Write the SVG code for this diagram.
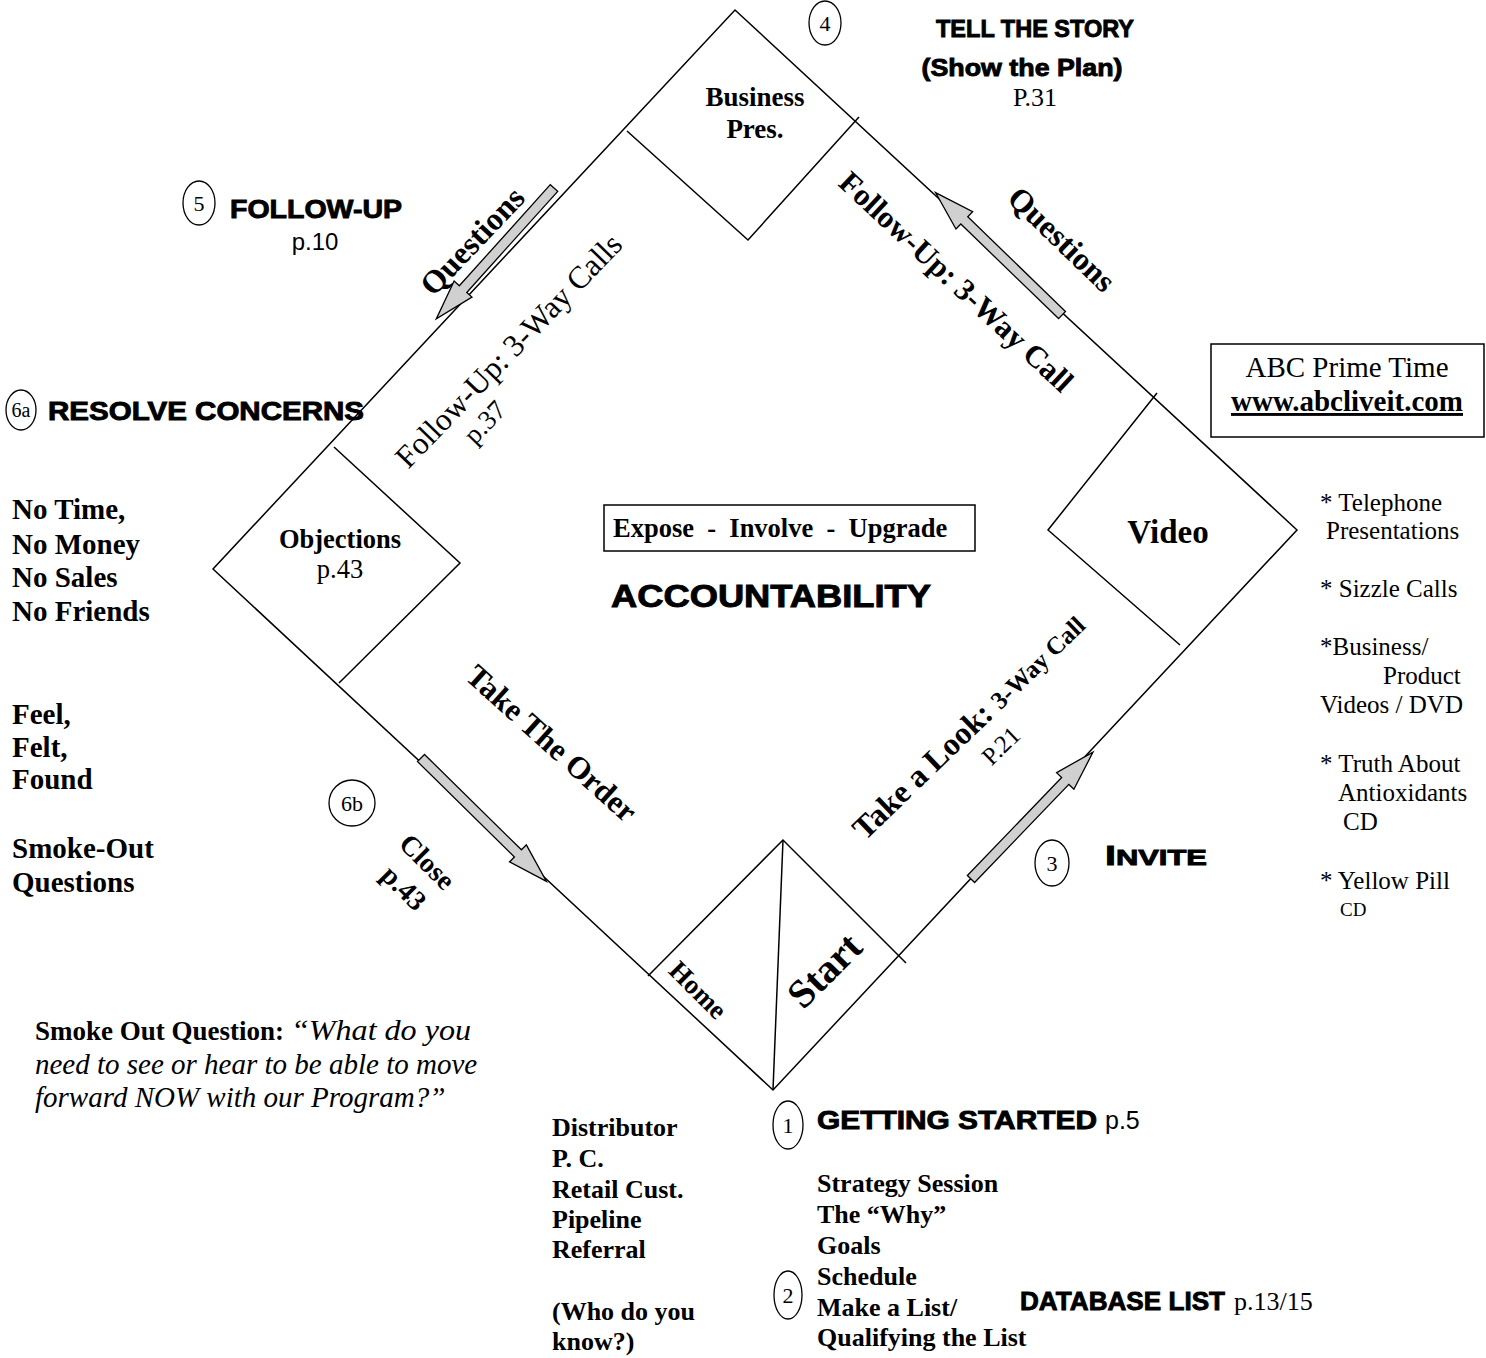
<svg xmlns="http://www.w3.org/2000/svg" width="1486" height="1358" viewBox="0 0 1486 1358">
<style>
.ln{fill:none;stroke:#000;stroke-width:1.5}
.cir{fill:none;stroke:#000;stroke-width:1.3}
.sr{font-family:"Liberation Serif","Times New Roman",serif;fill:#000}
.b{font-weight:bold}
.i{font-style:italic}
.hd{font-family:"Liberation Sans",Arial,sans-serif;font-weight:bold;fill:#000;stroke:#000;stroke-width:0.9}
.ss{font-family:"Liberation Sans",Arial,sans-serif;fill:#000}
.num{font-family:"Liberation Serif","Times New Roman",serif;font-size:22px;text-anchor:middle;fill:#000}
.mid{text-anchor:middle}
.arr{fill:#d0d0d0;stroke:#000;stroke-width:1.3;stroke-linejoin:miter}
</style>
<defs>
<path id="blk" d="M0,-5 H136 V-12 L176,0 L136,12 V5 H0 Z"/>
</defs>
<rect width="1486" height="1358" fill="#fff"/>

<g id="connectors">
<polygon class="ln" points="735,10 1297,530 773,1090 213,569"/>
<use href="#blk" class="arr" transform="translate(554,188) rotate(131.97)"/>
<use href="#blk" class="arr" transform="translate(1062,315) rotate(-135.92)"/>
<use href="#blk" class="arr" transform="translate(971,879) rotate(-46.13)"/>
<use href="#blk" class="arr" transform="translate(421,758) rotate(44.54)"/>
</g>

<g id="node-business">
<polyline class="ln" points="627,131 748,240 859,117"/>
<text class="sr b mid" x="755" y="106" font-size="27">Business</text>
<text class="sr b mid" x="755" y="138" font-size="27">Pres.</text>
</g>

<g id="node-video">
<polyline class="ln" points="1157,393 1048,530 1180,645"/>
<text class="sr b mid" x="1168" y="543" font-size="33">Video</text>
</g>

<g id="node-objections">
<polyline class="ln" points="334,447 460,563 339,683"/>
<text class="sr b mid" x="340" y="548" font-size="26.5">Objections</text>
<text class="sr mid" x="340" y="578" font-size="26.5">p.43</text>
</g>

<g id="node-home-start">
<polyline class="ln" points="648,976 783,840 906,963"/>
<line class="ln" x1="783" y1="840" x2="773" y2="1090"/>
<text class="sr b mid" transform="translate(698,990) rotate(45)" y="9" font-size="27">Home</text>
<text class="sr b mid" transform="translate(824,970) rotate(-45)" y="14" font-size="40">Start</text>
</g>

<g id="labels-edges">
<text class="sr b mid" transform="translate(472,241) rotate(-46.5)" y="11" font-size="32">Questions</text>
<text class="sr b mid" transform="translate(1062,239) rotate(44)" y="11" font-size="32">Questions</text>
<g transform="translate(509,351) rotate(-46)">
<text class="sr mid" y="10" font-size="31.5">Follow-Up: 3-Way Calls</text>
<text class="sr mid" x="-68" y="41" font-size="27">p.37</text>
</g>
<text class="sr b mid" transform="translate(956,282) rotate(43)" y="10" font-size="31">Follow-Up: 3-Way Call</text>
<text class="sr b mid" transform="translate(552,743) rotate(42)" y="11" font-size="31.5">Take The Order</text>
<g transform="translate(969,727) rotate(-44)">
<text class="sr b mid" y="10" font-size="32">Take a Look: <tspan font-size="25">3-Way Call</tspan></text>
<text class="sr mid" x="10" y="44" font-size="25">P.21</text>
</g>
<g transform="translate(427,862) rotate(45)">
<text class="sr b mid" y="9" font-size="28">Close</text>
<text class="sr b mid" x="2" y="44" font-size="28">p.43</text>
</g>
</g>

<g id="step4">
<ellipse class="cir" cx="825" cy="23" rx="16" ry="22"/>
<text class="num" x="825" y="31">4</text>
<text class="hd mid" x="1035" y="37" font-size="24" textLength="198" lengthAdjust="spacingAndGlyphs">TELL THE STORY</text>
<text class="hd mid" x="1022" y="76" font-size="24" textLength="201" lengthAdjust="spacingAndGlyphs">(Show the Plan)</text>
<text class="sr mid" x="1035" y="106" font-size="26">P.31</text>
</g>

<g id="step5">
<ellipse class="cir" cx="199" cy="203" rx="16" ry="22"/>
<text class="num" x="199" y="211">5</text>
<text class="hd" x="230" y="218" font-size="26" textLength="172" lengthAdjust="spacingAndGlyphs">FOLLOW-UP</text>
<text class="ss mid" x="315" y="250" font-size="24">p.10</text>
</g>

<g id="step6a">
<ellipse class="cir" cx="21" cy="410" rx="15" ry="20"/>
<text class="num" x="21" y="417" style="font-size:20px">6a</text>
<text class="hd" x="48" y="420" font-size="26" textLength="316" lengthAdjust="spacingAndGlyphs">RESOLVE CONCERNS</text>
</g>

<g id="objection-list">
<text class="sr b" x="12" y="519" font-size="29">No Time,</text>
<text class="sr b" x="12" y="554" font-size="29">No Money</text>
<text class="sr b" x="12" y="587" font-size="29">No Sales</text>
<text class="sr b" x="12" y="621" font-size="29">No Friends</text>
<text class="sr b" x="12" y="724" font-size="29">Feel,</text>
<text class="sr b" x="12" y="757" font-size="29">Felt,</text>
<text class="sr b" x="12" y="789" font-size="29">Found</text>
<text class="sr b" x="12" y="858" font-size="29">Smoke-Out</text>
<text class="sr b" x="12" y="892" font-size="29">Questions</text>
</g>

<g id="step6b">
<ellipse class="cir" cx="352" cy="803" rx="23" ry="23"/>
<text class="num" x="352" y="811">6b</text>
</g>

<g id="center">
<rect class="ln" x="604" y="505" width="371" height="46"/>
<text class="sr b" x="613" y="537" font-size="26.5" xml:space="preserve">Expose  -  Involve  -  Upgrade</text>
<text class="hd mid" x="771" y="607" font-size="31" textLength="320" lengthAdjust="spacingAndGlyphs">ACCOUNTABILITY</text>
</g>

<g id="abc-box">
<rect class="ln" x="1211" y="344" width="273" height="93"/>
<text class="sr mid" x="1347" y="377" font-size="29">ABC Prime Time</text>
<text class="sr b mid" x="1347" y="411" font-size="29" text-decoration="underline">www.abcliveit.com</text>
</g>

<g id="video-list">
<text class="sr" x="1320" y="511" font-size="25">* Telephone</text>
<text class="sr" x="1326" y="539" font-size="25">Presentations</text>
<text class="sr" x="1320" y="597" font-size="25">* Sizzle Calls</text>
<text class="sr" x="1320" y="655" font-size="25">*Business/</text>
<text class="sr" x="1383" y="684" font-size="25">Product</text>
<text class="sr" x="1320" y="713" font-size="25">Videos / DVD</text>
<text class="sr" x="1320" y="772" font-size="25">* Truth About</text>
<text class="sr" x="1338" y="801" font-size="25">Antioxidants</text>
<text class="sr" x="1343" y="830" font-size="25">CD</text>
<text class="sr" x="1320" y="889" font-size="25">* Yellow Pill</text>
<text class="sr" x="1340" y="916" font-size="19">CD</text>
</g>

<g id="step3">
<ellipse class="cir" cx="1052" cy="863" rx="17" ry="23"/>
<text class="num" x="1052" y="871">3</text>
<text class="hd" x="1105" y="865" textLength="102" lengthAdjust="spacingAndGlyphs"><tspan font-size="28">I</tspan><tspan font-size="22">NVITE</tspan></text>
</g>

<g id="smoke-out">
<text class="sr b" x="35" y="1040" font-size="27">Smoke Out Question:</text>
<text class="sr i" x="291" y="1040" font-size="29" textLength="180" lengthAdjust="spacingAndGlyphs">“What do you</text>
<text class="sr i" x="35" y="1074" font-size="29">need to see or hear to be able to move</text>
<text class="sr i" x="35" y="1107" font-size="29">forward NOW with our Program?”</text>
</g>

<g id="contacts">
<text class="sr b" x="552" y="1136" font-size="26">Distributor</text>
<text class="sr b" x="552" y="1167" font-size="26">P. C.</text>
<text class="sr b" x="552" y="1198" font-size="26">Retail Cust.</text>
<text class="sr b" x="552" y="1228" font-size="26">Pipeline</text>
<text class="sr b" x="552" y="1258" font-size="26">Referral</text>
<text class="sr b" x="552" y="1320" font-size="26">(Who do you</text>
<text class="sr b" x="552" y="1350" font-size="26">know?)</text>
</g>

<g id="step1">
<ellipse class="cir" cx="788" cy="1125" rx="15" ry="24"/>
<text class="num" x="788" y="1133">1</text>
<text class="hd" x="817" y="1129" font-size="26" textLength="280" lengthAdjust="spacingAndGlyphs">GETTING STARTED</text>
<text class="ss" x="1105" y="1129" font-size="25">p.5</text>
<text class="sr b" x="817" y="1192" font-size="26">Strategy Session</text>
<text class="sr b" x="817" y="1223" font-size="26">The “Why”</text>
<text class="sr b" x="817" y="1254" font-size="26">Goals</text>
<text class="sr b" x="817" y="1285" font-size="26">Schedule</text>
<text class="sr b" x="817" y="1316" font-size="26">Make a List/</text>
<text class="sr b" x="817" y="1346" font-size="26">Qualifying the List</text>
</g>

<g id="step2">
<ellipse class="cir" cx="788" cy="1295" rx="14" ry="24"/>
<text class="num" x="788" y="1303">2</text>
<text class="hd" x="1020" y="1310" font-size="26" textLength="205" lengthAdjust="spacingAndGlyphs">DATABASE LIST</text>
<text class="sr" x="1234" y="1310" font-size="26">p.13/15</text>
</g>
</svg>
